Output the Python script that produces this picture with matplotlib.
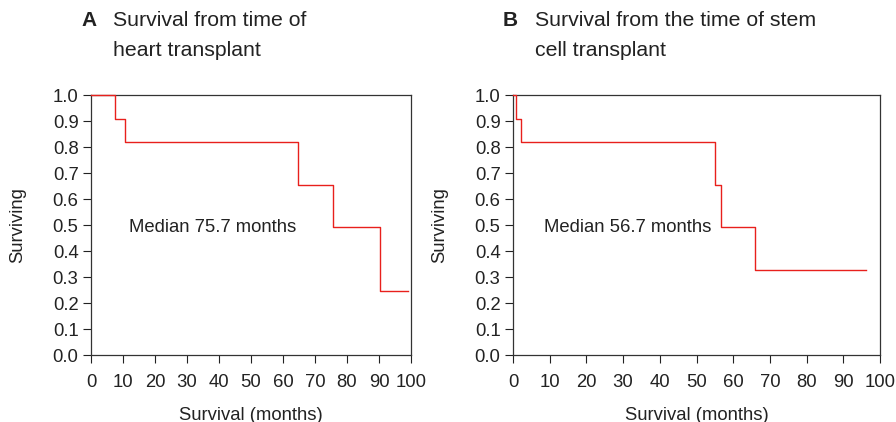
import matplotlib
matplotlib.use("Agg")
from matplotlib import pyplot as plt
import numpy as np

plt.rcParams['font.family'] = ['Liberation Sans', 'DejaVu Sans']

# Panel A: survival from heart transplant (Kaplan-Meier steps)
heart_months = [0, 7.5, 10.6, 64.7, 75.7, 90.3, 99.0]
heart_surv = [1.0, 0.909, 0.818, 0.655, 0.491, 0.245, 0.245]

# Panel B: survival from stem cell transplant
stem_months = [0, 0.8, 2.2, 55.0, 56.7, 65.9, 96.1]
stem_surv = [1.0, 0.909, 0.818, 0.655, 0.491, 0.327, 0.327]

x_ticks = list(range(0, 101, 10))
y_ticks = [round(v * 0.1, 1) for v in range(11)]

panels = [
    ("A", ["Survival from time of", "heart transplant"], heart_months, heart_surv,
     "Median 75.7 months", (11.9, 0.49)),
    ("B", ["Survival from the time of stem", "cell transplant"], stem_months, stem_surv,
     "Median 56.7 months", (8.4, 0.49)),
]

fig = plt.figure(figsize=(8.96, 4.22), dpi=100)
axes_pos = [
    [91 / 896, 67 / 422, 320 / 896, 260 / 422],
    [513 / 896, 67 / 422, 367 / 896, 260 / 422],
]

fs = 13.3
for pos, (letter, title, months, surv, median_txt, txt_xy) in zip(axes_pos, panels):
    ax = fig.add_axes(pos)
    ax.step(months, surv, where='post', color='#e8201c', lw=1.0, clip_on=False, zorder=3)
    ax.set_xlim(0, 100)
    ax.set_ylim(0, 1.0)
    ax.set_xticks(x_ticks)
    ax.set_yticks(y_ticks)
    ax.set_yticklabels(["%.1f" % v for v in y_ticks])
    ax.tick_params(direction='out', length=6, width=0.8, labelsize=fs,
                   colors='#222222')
    ax.tick_params(axis='x', pad=8)
    ax.tick_params(axis='y', pad=3)
    for s in ax.spines.values():
        s.set_linewidth(0.9)
        s.set_color('#333333')
    ax.set_xlabel("Survival (months)", fontsize=fs, color='#222222', labelpad=11)
    ax.set_ylabel("Surviving", fontsize=fs, color='#222222', labelpad=19)
    ax.text(txt_xy[0], txt_xy[1], median_txt, fontsize=fs, color='#222222',
            va='center', ha='left')

    # panel header: bold letter plus two-line title
    x0 = pos[0]
    fig.text(x0 - 10 / 896, 1 - 20 / 422, letter, fontsize=15, fontweight='bold',
             va='center', ha='left', color='#222222')
    for i, line in enumerate(title):
        fig.text(x0 + 22 / 896, 1 - (20 + 30 * i) / 422, line, fontsize=15.3,
                 va='center', ha='left', color='#222222')

fig.savefig("out.png", dpi=100)
